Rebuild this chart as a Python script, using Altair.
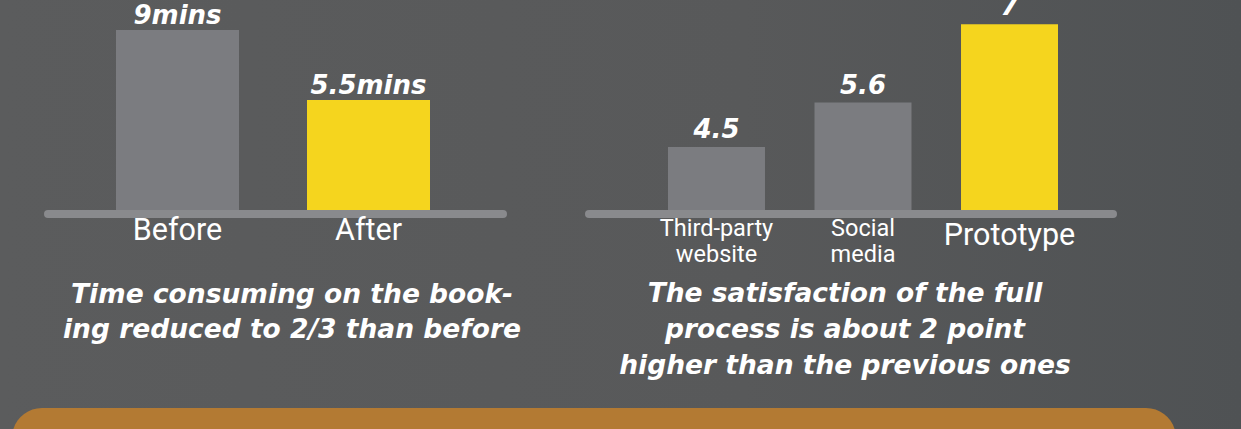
import altair as alt
import pandas as pd

# ---- data ----
left_cats = ["Before", "After"]
left_vals = [9, 5.5]
left_value_labels = ["9mins", "5.5mins"]
left_highlight = ["no", "yes"]

right_cats = ["Third-party website", "Social media", "Prototype"]
right_axis_labels = ["Third-party\nwebsite", "Social\nmedia", "Prototype"]
right_vals = [4.5, 5.6, 7]
right_value_labels = ["4.5", "5.6", "7"]
right_highlight = ["no", "no", "yes"]

caption_left = "Time consuming on the book-\ning reduced to 2/3 than before"
caption_right = "The satisfaction of the full\nprocess is about 2 point\nhigher than the previous ones"

# ---- styles ----
BG = "#58595b"
GRAY = "#7b7c80"
YELLOW = "#f5d51e"
RULE = "#898a8d"
ORANGE = "#b37a33"
WHITE = "#ffffff"
BOLD_FONT = "DejaVu Sans"
AXIS_FONT = "Roboto"

left_df = pd.DataFrame({"cat": left_cats, "val": left_vals,
                        "label": left_value_labels, "hl": left_highlight})
right_df = pd.DataFrame({"cat": right_cats, "val": right_vals,
                         "label": right_value_labels, "hl": right_highlight,
                         "axis": right_axis_labels})
one = pd.DataFrame({"k": [0]})
caps = pd.DataFrame({"text": [caption_left, caption_right]})

color_scale = alt.Scale(domain=["no", "yes"], range=[GRAY, YELLOW])

# left scales
lx = alt.X("cat:N", sort=left_cats,
           scale=alt.Scale(type="band", domain=left_cats, range=[116, 430],
                           paddingInner=0.356, paddingOuter=0),
           axis=None)
ly = alt.Y("val:Q", scale=alt.Scale(domain=[0, 9], range=[210, 30]), axis=None)

# right scales
rx = alt.X("cat:N", sort=right_cats,
           scale=alt.Scale(type="band", domain=right_cats, range=[668, 1058],
                           paddingInner=0.338, paddingOuter=0),
           axis=None)
ry = alt.Y("val:Q", scale=alt.Scale(type="pow", exponent=2.45, domain=[0, 7], range=[210, 24.3]), axis=None)

background = alt.Chart(one).mark_rect(
    color=alt.Gradient(gradient="linear",
                       stops=[alt.GradientStop(color="#5b5c5d", offset=0),
                              alt.GradientStop(color="#58595a", offset=0.6),
                              alt.GradientStop(color="#4f5254", offset=1)],
                       x1=0, x2=1, y1=0, y2=0)
).encode(x=alt.value(0), x2=alt.value(1241), y=alt.value(0), y2=alt.value(429))

orange = alt.Chart(one).mark_rect(color=ORANGE, cornerRadius=30).encode(
    x=alt.value(12), x2=alt.value(1176), y=alt.value(408), y2=alt.value(480))

value_style = dict(font=BOLD_FONT, fontWeight="bold", fontStyle="italic", fontSize=26,
                   color=WHITE, baseline="alphabetic")

left_bars = alt.Chart(left_df).mark_bar().encode(
    x=lx, y=ly, color=alt.Color("hl:N", scale=color_scale, legend=None))
left_vals_txt = alt.Chart(left_df).mark_text(dy=-6, **value_style).encode(
    x=lx, y=ly, text="label:N")
left_axis_txt = alt.Chart(left_df).mark_text(
    font=AXIS_FONT, fontSize=30.5, color=WHITE, baseline="alphabetic").encode(
    x=lx, y=alt.value(240), text="cat:N")
left_rule = alt.Chart(one).mark_rule(color=RULE, strokeWidth=8, strokeCap="round").encode(
    x=alt.value(48), x2=alt.value(503), y=alt.value(214))

right_bars = alt.Chart(right_df).mark_bar().encode(
    x=rx, y=ry, color=alt.Color("hl:N", scale=color_scale, legend=None))
right_vals_txt = alt.Chart(right_df).mark_text(dy=-9, **value_style).encode(
    x=rx, y=ry, text="label:N")
right_axis_small = alt.Chart(right_df).transform_filter(
    "datum.hl == 'no'").mark_text(
    font=AXIS_FONT, fontSize=23.5, color=WHITE, baseline="alphabetic",
    lineBreak="\n", lineHeight=26).encode(x=rx, y=alt.value(236), text="axis:N")
right_axis_big = alt.Chart(right_df).transform_filter(
    "datum.hl == 'yes'").mark_text(
    font=AXIS_FONT, fontSize=30.5, color=WHITE, baseline="alphabetic").encode(
    x=rx, y=alt.value(245), text="axis:N")
right_rule = alt.Chart(one).mark_rule(color=RULE, strokeWidth=8, strokeCap="round").encode(
    x=alt.value(589), x2=alt.value(1113), y=alt.value(214))

cap_style = dict(font=BOLD_FONT, fontWeight="bold", fontStyle="italic", fontSize=26.5,
                 color=WHITE, baseline="alphabetic", align="center", lineBreak="\n")
cap_left = alt.Chart(caps.iloc[[0]]).mark_text(lineHeight=35, **cap_style).encode(
    x=alt.value(292), y=alt.value(303), text="text:N")
cap_right = alt.Chart(caps.iloc[[1]]).mark_text(lineHeight=36, **cap_style).encode(
    x=alt.value(845), y=alt.value(302), text="text:N")

chart = alt.layer(
    background, orange,
    left_bars, left_rule, left_vals_txt, left_axis_txt,
    right_bars, right_rule, right_vals_txt, right_axis_small, right_axis_big,
    cap_left, cap_right
).resolve_scale(x="independent", y="independent", color="independent").properties(
    width=1241, height=429, padding=0,
    autosize=alt.AutoSizeParams(type="none"),
    background=BG
).configure_view(stroke=None)

chart.save("out.html", embed_options={"renderer": "svg", "actions": False})
